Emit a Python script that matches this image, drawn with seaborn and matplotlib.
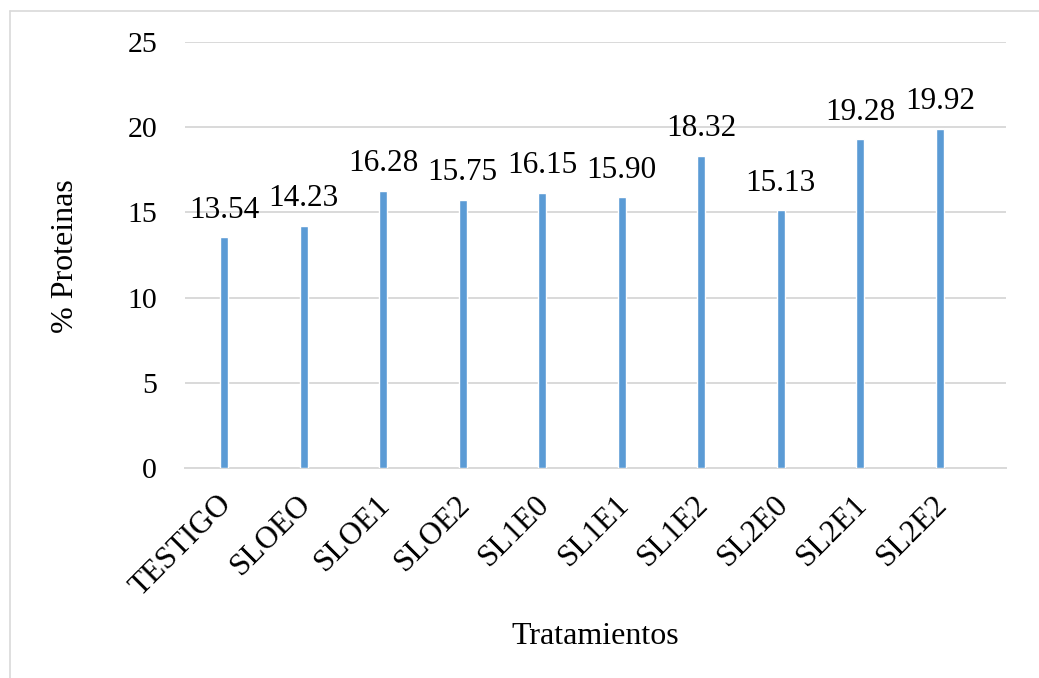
import matplotlib
matplotlib.use("Agg")
import matplotlib.pyplot as plt
import matplotlib.transforms as mtransforms
import seaborn as sns
import pandas as pd
from matplotlib.lines import Line2D

categories = ["TESTIGO", "SLOEO", "SLOE1", "SLOE2", "SL1E0", "SL1E1", "SL1E2", "SL2E0", "SL2E1", "SL2E2"]
values = [13.54, 14.23, 16.28, 15.75, 16.15, 15.90, 18.32, 15.13, 19.28, 19.92]
yticks = [0, 5, 10, 15, 20, 25]

sns.set_theme(style="white")
plt.rcParams['font.family'] = ['Liberation Serif', 'DejaVu Serif']

df = pd.DataFrame({"cat": categories, "val": values})

fig = plt.figure(figsize=(10.39, 6.78), dpi=100)
ax = fig.add_axes([185/1039, 1-468/678, (1006-185)/1039, (468-42)/678])

sns.barplot(data=df, x="cat", y="val", color="#5B9BD5", saturation=1, width=0.1, ax=ax, zorder=3)

ax.set_ylim(0, 25)
ax.set_yticks(yticks)
ax.set_xlim(-0.49, 9.83)
ax.yaxis.grid(True, color="#D9D9D9", linewidth=1.4, zorder=0)
ax.xaxis.grid(False)
for s in ["top", "right", "left"]:
    ax.spines[s].set_visible(False)
ax.spines["bottom"].set_color("#D9D9D9")
ax.spines["bottom"].set_linewidth(1.4)

ax.tick_params(axis="y", length=0, pad=20, labelsize=21.5, colors="black")
ax.tick_params(axis="x", length=0, pad=23, labelsize=22.5, colors="black")
offset = mtransforms.ScaledTranslation(3/100, 0, fig.dpi_scale_trans)
for lbl in ax.get_xticklabels():
    lbl.set_rotation(45)
    lbl.set_ha("right")
    lbl.set_va("center")
    lbl.set_rotation_mode("anchor")
    lbl.set_transform(lbl.get_transform() + offset)

for c in ax.containers:
    ax.bar_label(c, fmt="%.2f", padding=9, fontsize=22.5, color="black")

ax.set_xlabel("Tratamientos", fontsize=23, color="black")
ax.set_ylabel("% Proteinas", fontsize=23, color="black")
ax.xaxis.set_label_coords(0.5, (468-622)/(468-42))
ax.yaxis.set_label_coords((80-185)/(1006-185), (468-256)/(468-42))

# outer frame (left and top edges visible)
fig.add_artist(Line2D([10/1039, 10/1039], [0, 1-11/678], transform=fig.transFigure, color="#D9D9D9", linewidth=1.2))
fig.add_artist(Line2D([10/1039, 1], [1-11/678, 1-11/678], transform=fig.transFigure, color="#D9D9D9", linewidth=1.2))

fig.savefig("out.png", dpi=100)
